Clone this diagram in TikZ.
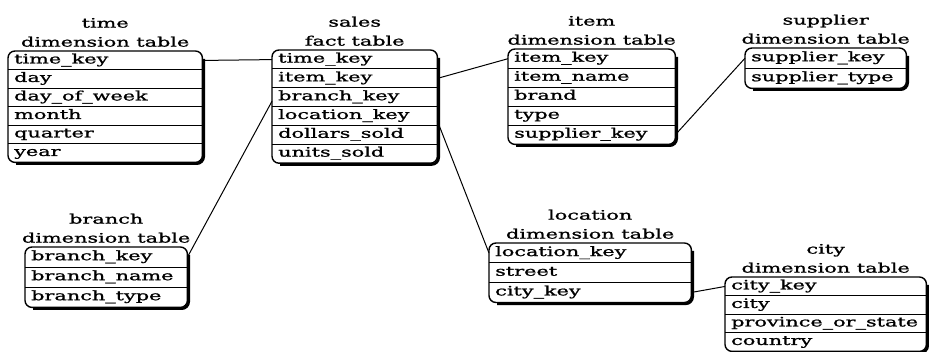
\documentclass[tikz,border=0pt]{standalone}
\usepackage{fontspec}
\newfontfamily\tblfont[FakeStretch=1.6,FakeBold=1.2]{DejaVu Serif}
\usetikzlibrary{calc}
\tikzset{
 rowcell/.style={inner xsep=6pt, inner ysep=0pt, text height=9pt, text depth=3pt, align=left,
   font=\tblfont\fontsize{13}{15}\selectfont, anchor=north west},
 tabtitle/.style={inner sep=0pt, align=center, font=\tblfont\fontsize{13}{19}\selectfont, anchor=south},
 boxline/.style={line width=1.4pt, rounded corners=7pt},
 shadowline/.style={line width=2.6pt, rounded corners=7pt},
 divider/.style={line width=0.9pt},
 link/.style={line width=1pt},
}
% #1 name, #2 x, #3 y, #4 width, #5 row height, #6 rows, #7 row list, #8 title
\newcommand\startab[8]{%
 \pgfmathsetmacro\tabtw{#4-12}%
 \foreach \txt [count=\i] in {#7}{%
  \node[rowcell, minimum width=#4pt, minimum height=#5pt, text width=\tabtw pt] (#1-\i) at (#2,{#3+(\i-1)*#5}) {\txt};
 }%
 \foreach \i in {2,...,#6}{%
  \draw[divider] (#1-\i.north west) -- (#1-\i.north east);
 }%
 \draw[shadowline] ([xshift=1.3pt,yshift=-8pt]#1-1.north east) -- ([xshift=1.3pt,yshift=-1.3pt]#1-#6.south east) -- ([xshift=8pt,yshift=-1.3pt]#1-#6.south west);
 \draw[boxline] (#1-1.north west) rectangle (#1-#6.south east);
 \node[tabtitle] (#1-t) at ($(#1-1.north)+(0,-4)$) {#8};
}
\begin{document}
\begin{tikzpicture}[x=1pt,y=-1pt]
\useasboundingbox (0,0) rectangle (929,352);
\startab{time}{8}{51}{194}{18.5}{6}{time\_key,day,day\_of\_week,month,quarter,year}{time\\dimension table}
\startab{sales}{272}{50}{165}{18.8}{6}{time\_key,item\_key,branch\_key,location\_key,dollars\_sold,units\_sold}{sales\\fact table}
\startab{item}{508}{49}{167}{19}{5}{item\_key,item\_name,brand,type,supplier\_key}{item\\dimension table}
\startab{supplier}{745}{48}{161}{20}{2}{supplier\_key,supplier\_type}{supplier\\dimension table}
\startab{branch}{25}{247}{162}{20}{3}{branch\_key,branch\_name,branch\_type}{branch\\dimension table}
\startab{location}{489}{243}{202}{19.7}{3}{location\_key,street,city\_key}{location\\dimension table}
\startab{city}{725}{277}{201}{18.5}{4}{city\_key,city,province\_or\_state,country}{city\\dimension table}
\draw[link] (time-1.east) -- (sales-1.west);
\draw[link] (sales-2.east) -- (item-1.west);
\draw[link] (item-5.east) -- (supplier-1.west);
\draw[link] ([yshift=-4pt]sales-3.west) -- (branch-1.east);
\draw[link] ([yshift=-5pt]sales-4.east) -- (location-1.west);
\draw[link] (location-3.east) -- (city-1.west);
\end{tikzpicture}
\end{document}
